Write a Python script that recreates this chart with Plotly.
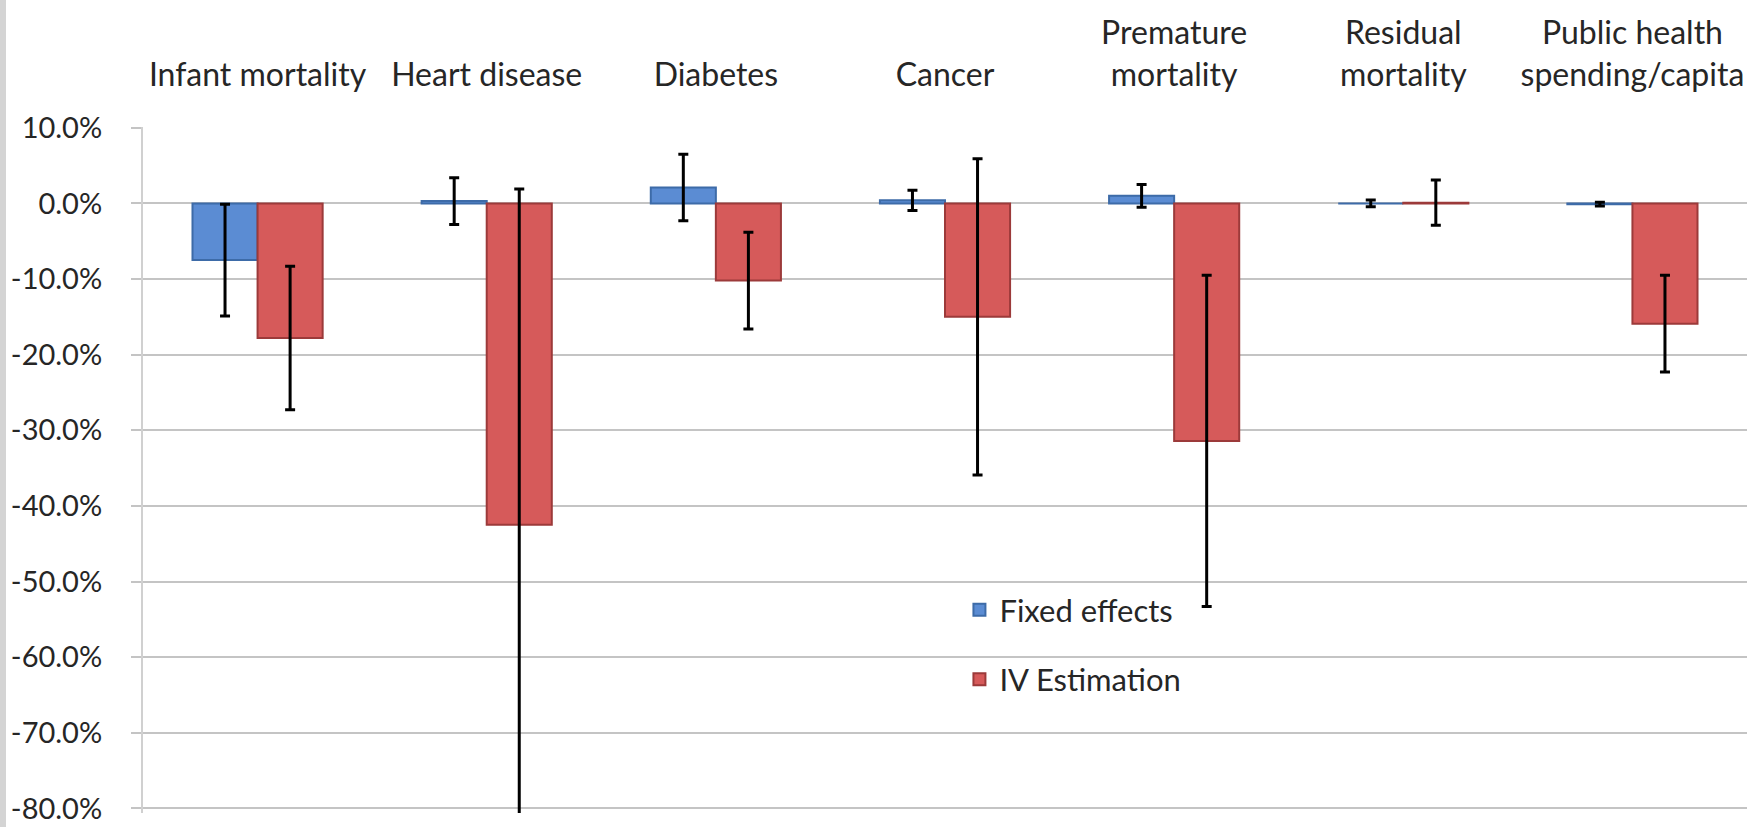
import plotly.graph_objects as go

categories = ["Infant mortality", "Heart disease", "Diabetes", "Cancer",
              "Premature<br>mortality", "Residual<br>mortality",
              "Public health<br>spending/capita"]

fixed_effects = [-7.5, 0.3, 2.1, 0.4, 1.0, 0.0, -0.1]
fixed_effects_err = [7.4, 3.1, 4.4, 1.35, 1.5, 0.45, 0.25]

iv_estimation = [-17.8, -42.5, -10.2, -15.0, -31.4, 0.1, -15.9]
iv_estimation_err = [9.5, 44.4, 6.4, 20.9, 21.9, 3.0, 6.4]

y_ticks = [10, 0, -10, -20, -30, -40, -50, -60, -70, -80]
y_min, y_max = -80.6, 10.1

FONT = "Lato"
TEXT = "#262626"
GRID = "#C4C4C4"

W, H = 1754, 827
ML, MR, MT, MB = 143, 7, 127, 14

fig = go.Figure()
fig.add_trace(go.Bar(
    name="Fixed effects", x=categories, y=fixed_effects,
    marker=dict(color="#5B8CD3", line=dict(color="#3D6BA8", width=2)),
    error_y=dict(type="data", array=fixed_effects_err, color="black",
                 thickness=3, width=5),
    legendgroup="a",
))
fig.add_trace(go.Bar(
    name="IV Estimation", x=categories, y=iv_estimation,
    marker=dict(color="#D65A5A", line=dict(color="#9C3A3A", width=2)),
    error_y=dict(type="data", array=iv_estimation_err, color="black",
                 thickness=3, width=5),
    legendgroup="b",
))

n = len(categories)
zero_pos = (0 - y_min) / (y_max - y_min)
plot_w = W - ML - MR

fig.update_layout(
    width=W, height=H,
    margin=dict(l=ML, r=MR, t=MT, b=MB, pad=0, autoexpand=False),
    paper_bgcolor="white", plot_bgcolor="white",
    barmode="group", bargap=0.432, bargroupgap=0,
    font=dict(family=FONT, color=TEXT, size=30),
    xaxis=dict(
        side="top", type="category", showgrid=False, showline=False,
        zeroline=False, ticks="", tickfont=dict(size=32, color=TEXT),
        ticklabelstandoff=34, range=[-0.5, n - 0.5], automargin=False,
    ),
    xaxis2=dict(
        overlaying="x", anchor="free", position=zero_pos, side="bottom",
        range=[-0.5, n - 0.5], tickmode="array",
        tickvals=[i - 0.5 for i in range(n + 1)],
        showticklabels=False, ticks="outside", ticklen=17, tickwidth=1.5,
        tickcolor=GRID, showline=True, linecolor=GRID, linewidth=2,
        showgrid=False, zeroline=False, automargin=False,
    ),
    yaxis=dict(
        range=[y_min, y_max], tickmode="array", tickvals=y_ticks,
        ticktext=[f"{v:.1f}%" for v in y_ticks],
        showgrid=True, gridcolor=GRID, gridwidth=2,
        zeroline=False, showline=True, linecolor="#D0D0D0", linewidth=2,
        ticks="outside", ticklen=10, tickcolor=GRID, tickwidth=2,
        tickfont=dict(size=29, color=TEXT), ticklabelstandoff=23,
        ticklabeloverflow="allow", automargin=False,
    ),
    legend=dict(
        x=0.509, y=0.335, xanchor="left", yanchor="top",
        bgcolor="rgba(0,0,0,0)", font=dict(size=31, color=TEXT),
        traceorder="grouped", tracegroupgap=26,
    ),
    showlegend=True,
    shapes=[dict(type="rect", xref="paper", yref="paper",
                 x0=-ML / plot_w, x1=(6 - ML) / plot_w,
                 y0=-MB / (H - MT - MB), y1=1 + MT / (H - MT - MB),
                 fillcolor="#D4D4D4", line=dict(width=0), layer="below")],
)

post = (
    "document.documentElement.style.overflow='hidden';"
    "document.body.style.margin='0';"
    "document.body.style.overflow='hidden';"
)

fig.write_html("out.html", config={"displayModeBar": False},
               post_script=post)
